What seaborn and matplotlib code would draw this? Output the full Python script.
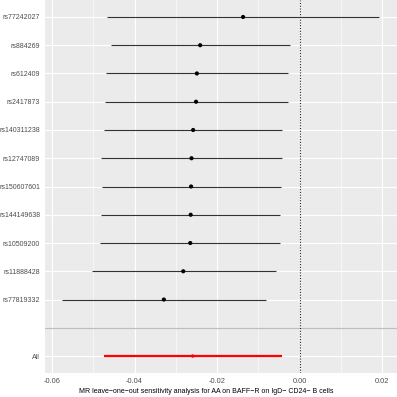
import numpy as np
import pandas as pd
import seaborn as sns
import matplotlib.pyplot as plt

# leave-one-out estimates
snps = ["rs77242027", "rs884269", "rs612409", "rs2417873", "rs140311238",
        "rs12747089", "rs150607601", "rs144149638", "rs10509200",
        "rs11888428", "rs77819332", "", "All"]
b = [-0.0137, -0.0241, -0.0249, -0.0251, -0.0258, -0.0262, -0.0263,
     -0.0264, -0.0265, -0.0282, -0.0329, np.nan, -0.0259]
lo = [-0.0466, -0.0458, -0.0469, -0.0472, -0.0473, -0.0482, -0.0480,
      -0.0482, -0.0484, -0.0503, -0.0575, np.nan, -0.0475]
hi = [0.0193, -0.0023, -0.0029, -0.0029, -0.0042, -0.0042, -0.0044,
      -0.0047, -0.0047, -0.0057, -0.0081, np.nan, -0.0043]
xticks = [-0.06, -0.04, -0.02, 0.00, 0.02]
xticklabels = ["-0.06", "-0.04", "-0.02", "0.00", "0.02"]
xlab = "MR leave\u2212one\u2212out sensitivity analysis for AA on BAFF\u2212R on IgD\u2212 CD24\u2212 B cells"

df = pd.DataFrame({"SNP": snps, "b": b, "lo": lo, "hi": hi})
df["pos"] = np.arange(len(df))[::-1] + 1
df["grp"] = np.where(df["SNP"] == "All", "All", "snp")

sns.set_theme(style="darkgrid", rc={
    "axes.facecolor": "#EBEBEB", "grid.color": "white",
    "axes.edgecolor": "none"})
plt.rcParams["font.family"] = ["Liberation Sans", "DejaVu Sans"]

fig = plt.figure(figsize=(3.97, 3.97), dpi=100)
ax = fig.add_axes([45 / 397, 24 / 397, 352 / 397, 373 / 397])

# minor grid
for v in [-0.05, -0.03, -0.01, 0.01]:
    ax.axvline(v, color="white", lw=0.4, zorder=0)

snp = df[df["grp"] == "snp"].dropna()
allr = df[df["grp"] == "All"]
ax.hlines(snp["pos"], snp["lo"], snp["hi"], color="#333333", lw=0.8, zorder=2)
ax.hlines(allr["pos"], allr["lo"], allr["hi"], color="red", lw=1.6, zorder=2)
sns.scatterplot(data=snp, x="b", y="pos", color="black", s=9,
                edgecolor="none", ax=ax, zorder=3)
sns.scatterplot(data=allr, x="b", y="pos", color="red", s=6,
                edgecolor="none", ax=ax, zorder=3)

ax.axvline(0, color="#222222", lw=0.8, ls=(0, (1, 1.5)), zorder=2)
blank = df.loc[df["SNP"] == "", "pos"].iloc[0]
ax.axhline(blank, color="#BEBEBE", lw=0.9, zorder=1)

ax.set_xlim(-0.0617, 0.0236)
ax.set_ylim(0.4, len(df) + 0.6)
ax.set_yticks(df["pos"])
ax.set_yticklabels(df["SNP"])
ax.set_xticks(xticks)
ax.set_xticklabels(xticklabels)
ax.grid(True, color="white", lw=0.8)
ax.tick_params(axis="both", labelsize=5, colors="#333333", labelcolor="#4D4D4D",
               length=2, width=0.5, pad=1.5)
ax.tick_params(axis="x", labelsize=5.3)
ax.set_xlabel(xlab, fontsize=5, color="black", labelpad=2)
ax.xaxis.set_label_coords(0.457, -0.041)
ax.set_ylabel("")

fig.savefig("out.png", dpi=100)
